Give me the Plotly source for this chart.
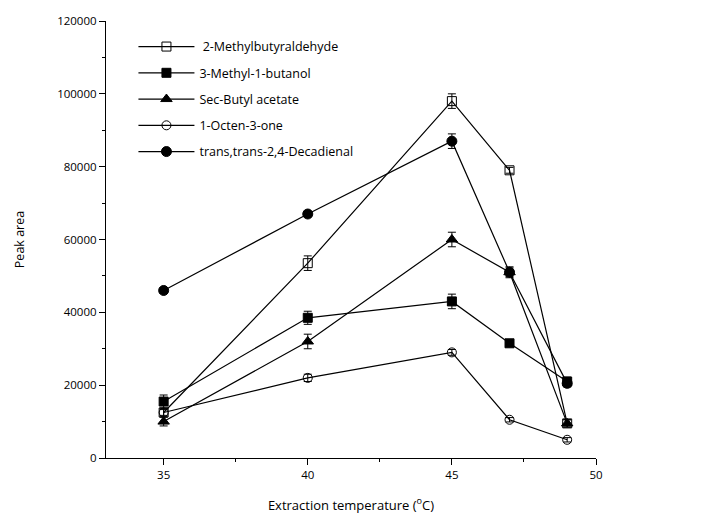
import plotly.graph_objects as go

temps = [35, 40, 45, 47, 49]
series_names = [" 2-Methylbutyraldehyde", "3-Methyl-1-butanol", "Sec-Butyl acetate",
                "1-Octen-3-one", "trans,trans-2,4-Decadienal"]
methylbutyraldehyde = [12500, 53500, 98000, 79000, 9500]
methylbutanol = [15500, 38500, 43000, 31500, 21000]
sec_butyl_acetate = [10000, 32000, 60000, 51000, 9500]
octenone = [12500, 22000, 29000, 10500, 5000]
decadienal = [46000, 67000, 87000, 51000, 20500]

err_methylbutyraldehyde = [1200, 2000, 2000, 800, 1000]
err_methylbutanol = [1800, 1800, 2000, 800, 1200]
err_sec_butyl_acetate = [1200, 2000, 2000, 1500, 1000]
err_octenone = [800, 1000, 800, 600, 600]
err_decadienal = [800, 800, 2000, 1200, 1000]

values = [methylbutyraldehyde, methylbutanol, sec_butyl_acetate, octenone, decadienal]
errors = [err_methylbutyraldehyde, err_methylbutanol, err_sec_butyl_acetate, err_octenone, err_decadienal]
symbols = ["square-open", "square", "triangle-up", "circle-open", "circle"]
sizes = [9, 9, 10, 9, 10]

fig = go.Figure()
for i, (name, vals, errs, sym, sz) in enumerate(zip(series_names, values, errors, symbols, sizes)):
    fig.add_trace(go.Scatter(
        x=temps, y=vals, name=name, mode="lines+markers", legendgroup=f"g{i}",
        line=dict(color="black", width=1.2),
        marker=dict(symbol=sym, size=sz, color="black", line=dict(color="black", width=1)),
        error_y=dict(type="data", array=errs, visible=True, color="black", thickness=1, width=4),
    ))

font_family = "Open Sans, Lato, sans-serif"
fig.update_layout(
    width=709, height=520,
    margin=dict(l=106, r=113, t=21, b=62),
    paper_bgcolor="white", plot_bgcolor="white",
    font=dict(family=font_family, size=12, color="black"),
    showlegend=True,
    legend=dict(x=0.056, y=0.975, xanchor="left", yanchor="top",
                bgcolor="rgba(0,0,0,0)", font=dict(size=12.5), tracegroupgap=7,
                itemwidth=56),
    xaxis=dict(
        range=[33, 50], tickvals=[35, 40, 45, 50], showgrid=False, zeroline=False,
        automargin=False,
        showline=True, linecolor="black", linewidth=1.2, ticks="outside", ticklen=6,
        tickcolor="black", tickfont=dict(size=11.5),
        minor=dict(tickvals=[37.5, 42.5, 47.5], ticks="outside", ticklen=3, tickcolor="black"),
        title=dict(text="Extraction temperature (<sup>o</sup>C)", font=dict(size=13), standoff=19),
    ),
    yaxis=dict(
        range=[0, 120000], tickvals=[0, 20000, 40000, 60000, 80000, 100000, 120000],
        ticktext=["0", "20000", "40000", "60000", "80000", "100000", "120000"],
        showgrid=False, zeroline=False, automargin=False,
        showline=True, linecolor="black", linewidth=1.2, ticks="outside", ticklen=6,
        tickcolor="black", tickfont=dict(size=11.5),
        minor=dict(tickvals=[10000, 30000, 50000, 70000, 90000, 110000], ticks="outside",
                   ticklen=3, tickcolor="black"),
        title=dict(text="Peak area", font=dict(size=12.5), standoff=29),
    ),
)

fig.write_html("out.html")
